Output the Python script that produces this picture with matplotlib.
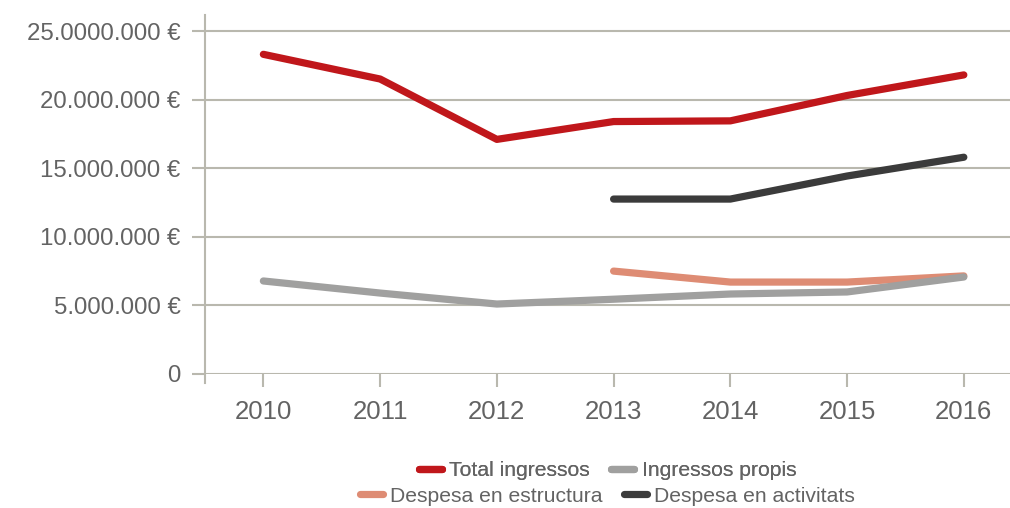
import matplotlib
matplotlib.use("Agg")
import matplotlib.pyplot as plt
import matplotlib.transforms as mtransforms
import numpy as np

years = ["2010", "2011", "2012", "2013", "2014", "2015", "2016"]
total_ingressos = [23.3e6, 21.5e6, 17.1e6, 18.4e6, 18.45e6, 20.3e6, 21.8e6]
ingressos_propis = [6.78e6, 5.9e6, 5.1e6, 5.45e6, 5.83e6, 5.98e6, 7.07e6]
despesa_estructura = [None, None, None, 7.5e6, 6.7e6, 6.7e6, 7.15e6]
despesa_activitats = [None, None, None, 12.75e6, 12.75e6, 14.43e6, 15.8e6]
ytick_vals = [0, 5e6, 10e6, 15e6, 20e6, 25e6]
ytick_labels = ["0", "5.000.000 €", "10.000.000 €", "15.000.000 €", "20.000.000 €", "25.0000.000 €"]

plt.rcParams['font.family'] = ['Liberation Sans', 'DejaVu Sans']
TXT = "#636363"
GRID = "#b9b8ae"

fig = plt.figure(figsize=(10.10, 5.08), dpi=100)
ax = fig.add_axes([205/1010, 1-374/508, 1-205/1010, (374-15)/508])

x = np.arange(len(years))
def arr(v):
    return np.array([np.nan if a is None else a for a in v], dtype=float)

lw = 5.2
ax.plot(x, arr(total_ingressos), color="#c0171b", lw=lw, solid_capstyle='round', solid_joinstyle='round', label="Total ingressos", zorder=3)
ax.plot(x, arr(ingressos_propis), color="#a0a09f", lw=lw, solid_capstyle='round', solid_joinstyle='round', label="Ingressos propis", zorder=3)
ax.plot(x, arr(despesa_estructura), color="#de8c74", lw=lw, solid_capstyle='round', solid_joinstyle='round', label="Despesa en estructura", zorder=2)
ax.plot(x, arr(despesa_activitats), color="#3b3b3b", lw=lw, solid_capstyle='round', solid_joinstyle='round', label="Despesa en activitats", zorder=3)

ytop = 25e6 * (374-15) / (374-31)
ax.set_ylim(0, ytop)
ax.set_xlim(-0.5, (1010-263)/116.8)

for s in ["top", "right", "left", "bottom"]:
    ax.spines[s].set_visible(False)

ax.set_yticks(ytick_vals)
ax.set_yticklabels(ytick_labels)
ax.set_xticks(x)
ax.set_xticklabels(years)
ax.yaxis.grid(True, color=GRID, lw=1.5, zorder=0)
ax.set_axisbelow(True)
ax.tick_params(axis='y', length=9.5, width=1.5, color=GRID, labelsize=17.3, labelcolor=TXT, pad=8)
ax.tick_params(axis='x', length=9.5, width=1.5, color=GRID, labelsize=18.5, labelcolor=TXT, pad=9)

# left axis line extending slightly below zero
trans = mtransforms.blended_transform_factory(ax.transData, ax.transAxes)
ax.plot([-0.5, -0.5], [-9/359, 1.0], transform=trans, color=GRID, lw=1.5, clip_on=False, zorder=1)

h, l = ax.get_legend_handles_labels()
cx = (205 + 1010) / 2 / 1010
common = dict(loc='center', ncol=2, frameon=False, fontsize=15.2, handlelength=1.1,
              handletextpad=0.35, columnspacing=1.0, labelcolor=TXT, borderaxespad=0, borderpad=0)
leg1 = fig.legend(h[:2], l[:2], bbox_to_anchor=(cx, 1-471/508), **common)
leg2 = fig.legend(h[2:], l[2:], bbox_to_anchor=(cx, 1-496/508), **common)
fig.add_artist(leg1)

fig.savefig("out.png", dpi=100)
